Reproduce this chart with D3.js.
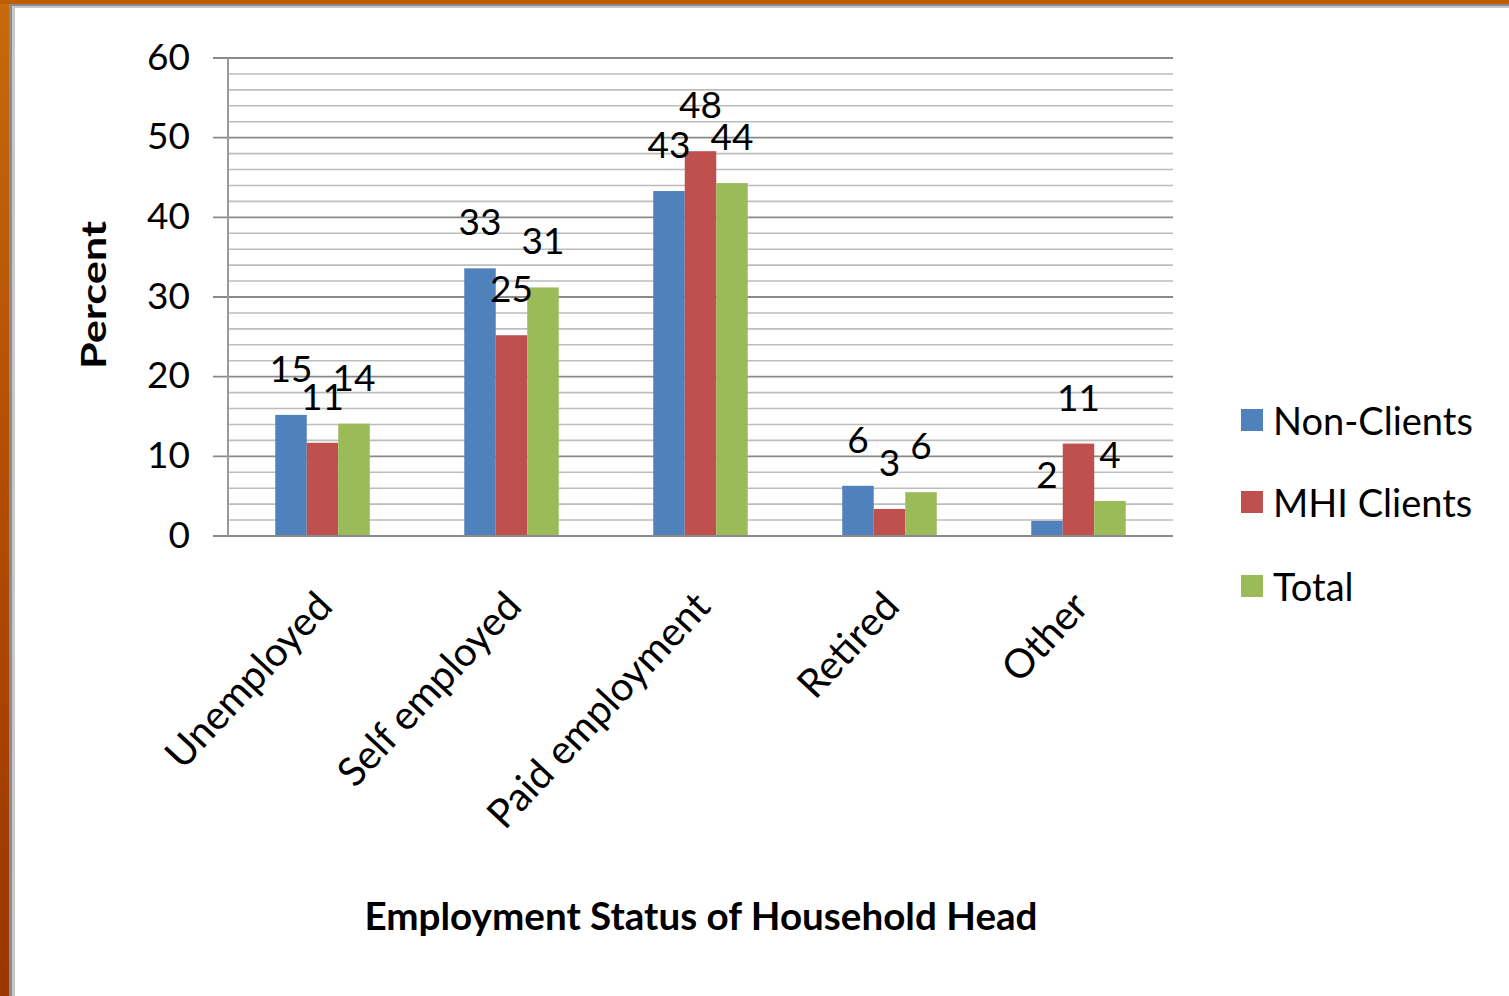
<!DOCTYPE html>
<html>
<head>
<meta charset="utf-8">
<script src="https://cdn.jsdelivr.net/npm/d3@7"></script>
<style>
  html, body { margin: 0; padding: 0; background: #fff; }
  svg { display: block; }
  text { font-family: Lato, "Open Sans", sans-serif; fill: #000; }
</style>
</head>
<body>
<svg id="chart" width="1509" height="996"></svg>
<script>
const categories = ["Unemployed", "Self employed", "Paid employment", "Retired", "Other"];
const seriesNames = ["Non-Clients", "MHI Clients", "Total"];
const nonClients = [15.2, 33.6, 43.3, 6.3, 1.9];
const mhiClients = [11.7, 25.2, 48.3, 3.4, 11.6];
const total = [14.1, 31.2, 44.3, 5.5, 4.4];
const nonClientsLabels = ["15", "33", "43", "6", "2"];
const mhiClientsLabels = ["11", "25", "48", "3", "11"];
const totalLabels = ["14", "31", "44", "6", "4"];
const yTicks = [0, 10, 20, 30, 40, 50, 60];
const yMinorTicks = d3.range(0, 61, 2);
const colors = ["#4f81bd", "#c0504d", "#9bbb59"];
const yTitle = "Percent";
const xTitle = "Employment Status of Household Head";

const seriesValues = [nonClients, mhiClients, total];
const seriesLabels = [nonClientsLabels, mhiClientsLabels, totalLabels];

const svg = d3.select("#chart");
const W = 1509, H = 996;

// Frame background (orange slide + grey border)
const defs = svg.append("defs");
const grad = defs.append("linearGradient").attr("id", "orange").attr("x1", 0).attr("y1", 0).attr("x2", 0).attr("y2", 1);
grad.append("stop").attr("offset", "0%").attr("stop-color", "#c66a0c");
grad.append("stop").attr("offset", "50%").attr("stop-color", "#b24c00");
grad.append("stop").attr("offset", "100%").attr("stop-color", "#9a3600");
svg.append("rect").attr("x", 0).attr("y", 0).attr("width", W).attr("height", H).attr("fill", "url(#orange)");
svg.append("rect").attr("x", 0).attr("y", 0).attr("width", W).attr("height", 4).attr("fill", "#ba5e00");
svg.append("rect").attr("x", 9).attr("y", 4).attr("width", W - 9).attr("height", H - 4).attr("fill", "#8c8c8c");
svg.append("rect").attr("x", 12).attr("y", 6).attr("width", W - 12).attr("height", H - 6).attr("fill", "#c8c8c8");
svg.append("rect").attr("x", 15).attr("y", 8).attr("width", W - 15).attr("height", H - 8).attr("fill", "#ffffff");

const plotLeft = 228, plotRight = 1173, plotTop = 58, plotBottom = 536;

const x0 = d3.scaleBand().domain(categories).range([plotLeft, plotRight]).paddingInner(0).paddingOuter(0);
const x1 = d3.scaleBand().domain(seriesNames).range([0, x0.bandwidth() * 0.5]);
const y = d3.scaleLinear().domain([0, 60]).range([plotBottom, plotTop]);

// Minor gridlines
svg.append("g").selectAll("line").data(yMinorTicks.filter(v => v % 10 !== 0)).join("line")
  .attr("x1", plotLeft).attr("x2", plotRight)
  .attr("y1", d => y(d)).attr("y2", d => y(d))
  .attr("stroke", "#bdbdbd").attr("stroke-width", 1.6);

// Major gridlines (extend left as tick marks)
svg.append("g").selectAll("line").data(yTicks).join("line")
  .attr("x1", plotLeft - 15).attr("x2", plotRight)
  .attr("y1", d => y(d)).attr("y2", d => y(d))
  .attr("stroke", "#8a8a8a").attr("stroke-width", 1.8);

// Y axis line
svg.append("line").attr("x1", plotLeft).attr("x2", plotLeft).attr("y1", plotTop).attr("y2", plotBottom)
  .attr("stroke", "#9a9a9a").attr("stroke-width", 2);

// Y tick labels
svg.append("g").selectAll("text").data(yTicks).join("text")
  .attr("x", 190).attr("y", d => y(d) - 3)
  .attr("text-anchor", "end").attr("dominant-baseline", "central")
  .style("font-size", "37px")
  .text(d => d);

// Bars
const groups = svg.append("g").selectAll("g").data(categories).join("g")
  .attr("transform", c => `translate(${x0(c) + x0.bandwidth() * 0.25},0)`);

groups.each(function(c, ci) {
  const g = d3.select(this);
  seriesNames.forEach((s, si) => {
    const v = seriesValues[si][ci];
    g.append("rect")
      .attr("x", x1(s)).attr("width", x1.bandwidth())
      .attr("y", y(v)).attr("height", y(0) - y(v))
      .attr("fill", colors[si]);
  });
  seriesNames.forEach((s, si) => {
    const v = seriesValues[si][ci];
    g.append("text")
      .attr("x", x1(s) + x1.bandwidth() / 2)
      .attr("y", y(v) - 33)
      .attr("text-anchor", "middle")
      .style("font-size", "37px")
      .text(seriesLabels[si][ci]);
  });
});

// Baseline axis
svg.append("line").attr("x1", plotLeft).attr("x2", plotRight).attr("y1", y(0)).attr("y2", y(0))
  .attr("stroke", "#8a8a8a").attr("stroke-width", 2);

// Category labels
svg.append("g").selectAll("text").data(categories).join("text")
  .attr("transform", c => `translate(${x0(c) + x0.bandwidth() / 2 + 1},${plotBottom + 62}) rotate(-47)`)
  .attr("text-anchor", "end").attr("dominant-baseline", "central")
  .style("font-size", "40px")
  .text(c => c);

// Axis titles
svg.append("text")
  .attr("transform", `translate(92,295) rotate(-90)`)
  .attr("text-anchor", "middle").attr("dominant-baseline", "central")
  .style("font-size", "34px").style("font-weight", "bold")
  .attr("textLength", 148).attr("lengthAdjust", "spacingAndGlyphs")
  .text(yTitle);

svg.append("text")
  .attr("x", 701).attr("y", 930)
  .attr("text-anchor", "middle")
  .style("font-size", "38px").style("font-weight", "bold")
  .attr("textLength", 673).attr("lengthAdjust", "spacingAndGlyphs")
  .text(xTitle);

// Legend
const legendY = [420, 502, 586];
const legend = svg.append("g").selectAll("g").data(seriesNames).join("g")
  .attr("transform", (d, i) => `translate(1241,${legendY[i]})`);
legend.append("rect").attr("x", 0).attr("y", -11).attr("width", 22).attr("height", 22)
  .attr("fill", (d, i) => colors[i]);
legend.append("text").attr("x", 32).attr("y", 0)
  .attr("dominant-baseline", "central")
  .style("font-size", "38px")
  .text(d => d);
</script>
</body>
</html>
